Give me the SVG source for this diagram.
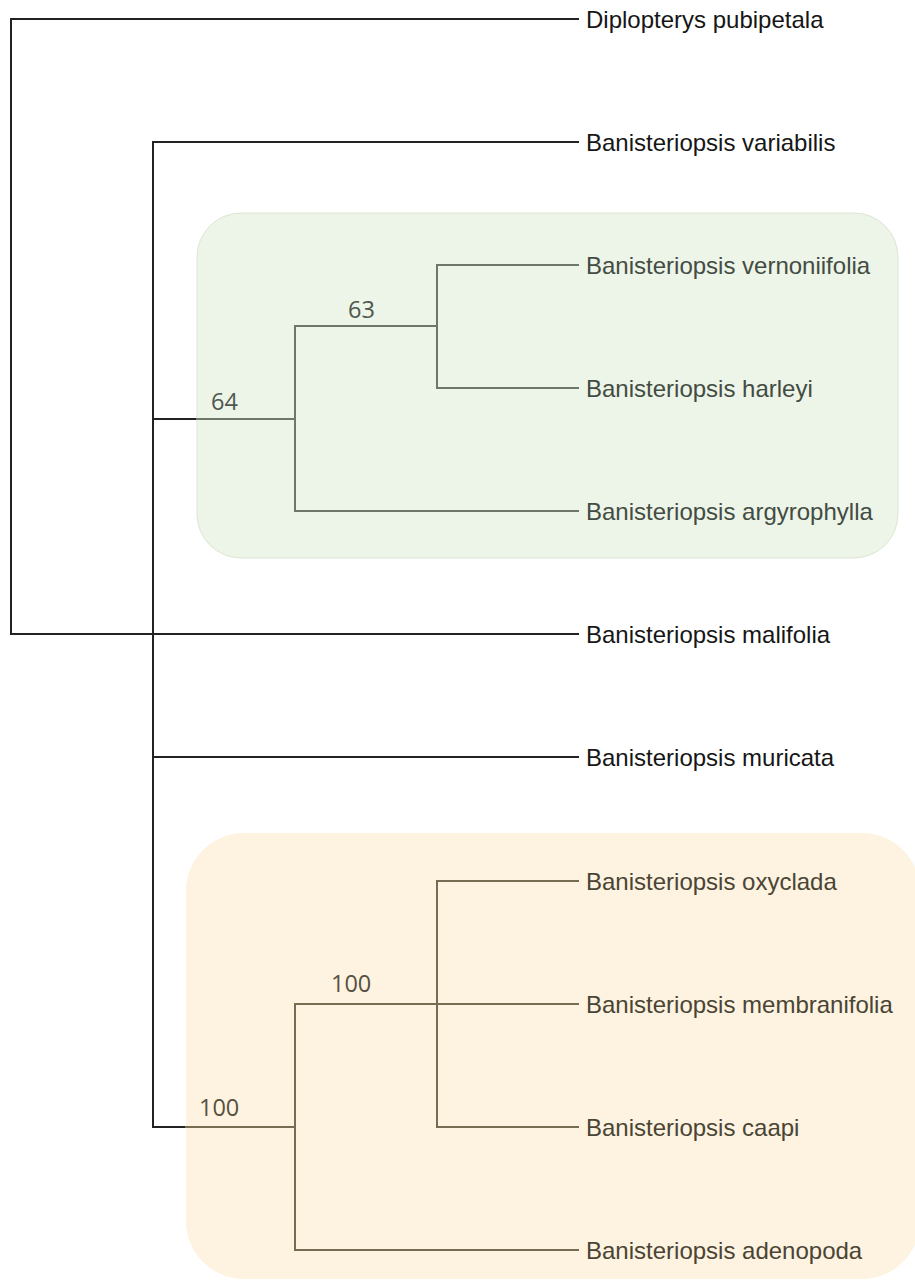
<svg xmlns="http://www.w3.org/2000/svg" width="915" height="1282" viewBox="0 0 915 1282">
<style>
.leaf{font-family:"Liberation Sans",Arial,sans-serif;font-size:24px;fill:#161616}
.leaf.g{fill:#434c43}
.leaf.o{fill:#4a4434}
.bs{font-family:"Open Sans","Noto Sans",sans-serif;font-size:23.5px}
.bs.g{fill:#4f584f}
.bs.o{fill:#575040}
.k{stroke:#222;stroke-width:2;fill:none;stroke-linecap:square}
.gl{stroke:#6d786a;stroke-width:2;fill:none;stroke-linecap:square}
.ol{stroke:#776b52;stroke-width:2;fill:none;stroke-linecap:square}
</style>
<rect width="915" height="1282" fill="#ffffff"/>
<g id="clade-64-box">
<rect x="197" y="213" width="701" height="345" rx="44" fill="#edf4e8" stroke="#dbe6d3" stroke-width="1"/>
</g>
<g id="clade-100-box">
<rect x="186" y="833" width="734" height="446" rx="58" fill="#fdf3e0"/>
</g>
<g id="connectors">
<path class="k" d="M11,19 H578 M11,19 V634 M11,634 H578"/>
<path class="k" d="M153,142 H578 M153,142 V1127 M153,757 H578"/>
<path class="k" d="M153,419 H197 M153,1127 H186"/>
<path class="gl" d="M197,419 H295 M295,326 V511 M295,326 H437 M295,511 H578 M437,265 V388 M437,265 H578 M437,388 H578"/>
<path class="ol" d="M186,1127 H295 M295,1004 V1250 M295,1004 H578 M295,1250 H578 M437,881 V1127 M437,881 H578 M437,1127 H578"/>
</g>
<g id="leaf-diplopterys-pubipetala"><text class="leaf" x="586" y="28">Diplopterys pubipetala</text></g>
<g id="leaf-variabilis"><text class="leaf" x="586" y="151">Banisteriopsis variabilis</text></g>
<g id="leaf-vernoniifolia"><text class="leaf g" x="586" y="274">Banisteriopsis vernoniifolia</text></g>
<g id="leaf-harleyi"><text class="leaf g" x="586" y="397">Banisteriopsis harleyi</text></g>
<g id="leaf-argyrophylla"><text class="leaf g" x="586" y="520">Banisteriopsis argyrophylla</text></g>
<g id="leaf-malifolia"><text class="leaf" x="586" y="643">Banisteriopsis malifolia</text></g>
<g id="leaf-muricata"><text class="leaf" x="586" y="766">Banisteriopsis muricata</text></g>
<g id="leaf-oxyclada"><text class="leaf o" x="586" y="890">Banisteriopsis oxyclada</text></g>
<g id="leaf-membranifolia"><text class="leaf o" x="586" y="1013">Banisteriopsis membranifolia</text></g>
<g id="leaf-caapi"><text class="leaf o" x="586" y="1136">Banisteriopsis caapi</text></g>
<g id="leaf-adenopoda"><text class="leaf o" x="586" y="1259">Banisteriopsis adenopoda</text></g>
<g id="support-64"><text class="bs g" x="211" y="410">64</text></g>
<g id="support-63"><text class="bs g" x="348" y="318">63</text></g>
<g id="support-100-inner"><text class="bs o" x="331" y="992">100</text></g>
<g id="support-100-outer"><text class="bs o" x="199" y="1116">100</text></g>
</svg>
